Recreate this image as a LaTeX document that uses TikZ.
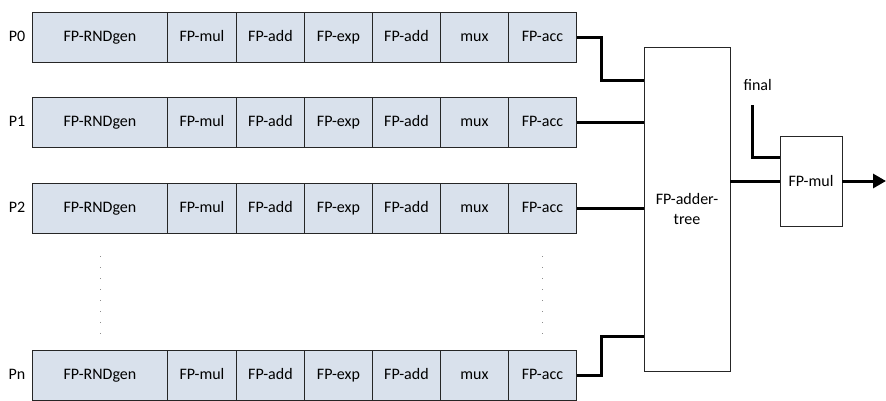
\documentclass[tikz,border=0pt]{standalone}
\usepackage{fontspec}
\setmainfont{Carlito}
\usetikzlibrary{arrows.meta,calc}
\definecolor{cellfill}{HTML}{D9E1EC}
\tikzset{
  cell/.style={draw=black!85, fill=cellfill, line width=0.9pt, minimum height=50pt,
               inner sep=0pt, anchor=west, text height=11.5pt, text depth=3.5pt,
               font=\fontsize{16}{18}\selectfont},
  plainbox/.style={draw=black!85, fill=white, line width=0.9pt, inner sep=0pt,
               font=\fontsize{16}{20}\selectfont, align=center},
  wire/.style={line width=3pt},
  lbl/.style={font=\fontsize{16}{18}\selectfont, text height=11.5pt, text depth=3.5pt},
  dots/.style={draw=black!45, line width=1pt, dash pattern=on 1pt off 10pt}
}
\begin{document}
\begin{tikzpicture}[x=1pt,y=-1pt]
\useasboundingbox (0,0) rectangle (886,400);

% pipeline rows: label, cells from RNG to accumulator
\foreach \r/\lab/\y in {0/P0/37, 1/P1/122, 2/P2/208, n/Pn/375}{
  \node[lbl] (lab\r) at (17,\y) {\lab};
  \node[cell, minimum width=135pt] (gen\r)  at (32,\y)  {FP-RNDgen};
  \node[cell, minimum width=69pt]  (mul\r)  at (167,\y) {FP-mul};
  \node[cell, minimum width=68pt]  (adda\r) at (236,\y) {FP-add};
  \node[cell, minimum width=68pt]  (exp\r)  at (304,\y) {FP-exp};
  \node[cell, minimum width=68pt]  (addb\r) at (372,\y) {FP-add};
  \node[cell, minimum width=68pt]  (mux\r)  at (440,\y) {mux};
  \node[cell, minimum width=68pt]  (acc\r)  at (508,\y) {FP-acc};
}

% elided rows
\draw[dots] (100,256) -- (100,335);
\draw[dots] (542,256) -- (542,335);

% reduction tree and final multiplier
\node[plainbox, minimum width=86pt, minimum height=324pt] (tree) at (687,209) {FP-adder-\\tree};
\node[plainbox, minimum width=62pt, minimum height=90pt] (fmul) at (811,181) {FP-mul};
\node[lbl, anchor=west] (final) at (740,86) {final};

% tree inputs
\coordinate (in0) at (tree.west |- 0,80);
\coordinate (inn) at (tree.west |- 0,336);
\draw[wire] (acc0.east) -- ++(25,0) |- (in0);
\draw[wire] (acc1.east) -- (acc1.east -| tree.west);
\draw[wire] (acc2.east) -- (acc2.east -| tree.west);
\draw[wire] (accn.east) -- ++(25,0) |- (inn);

% tree output, final factor and result
\draw[wire] (tree.east |- fmul.west) -- (fmul.west);
\coordinate (fin) at (752,105);
\draw[wire] (fin) |- (fmul.west |- 0,157);
\coordinate (out) at (886,181);
\draw[wire, -{Triangle[length=13pt,width=14pt]}] (fmul.east) -- (out);
\end{tikzpicture}
\end{document}
